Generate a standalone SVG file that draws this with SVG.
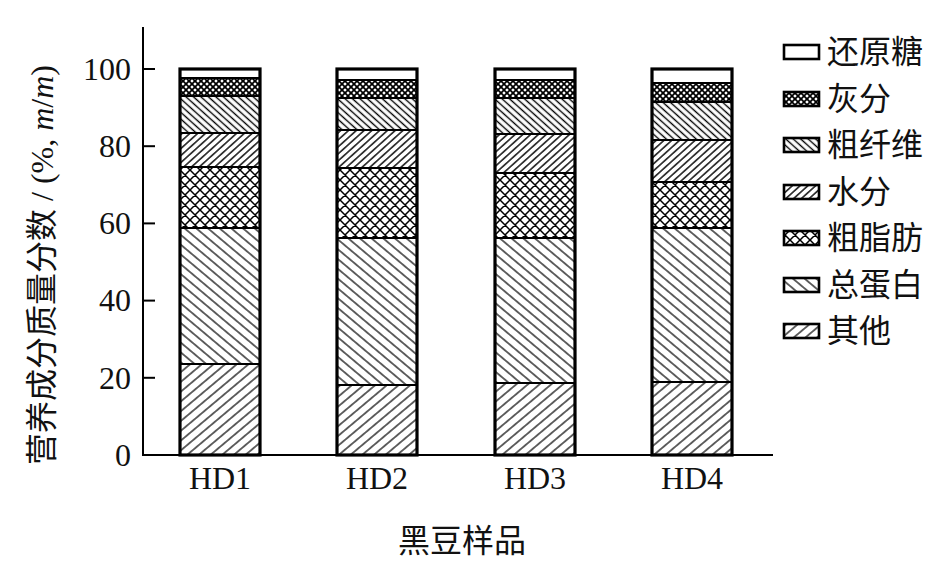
<svg xmlns="http://www.w3.org/2000/svg" width="947" height="579" viewBox="0 0 947 579">
<style>
.ax{stroke:#000;stroke-width:2;fill:none}
.seg{stroke:#000;stroke-width:2.2}
.bar{fill:none;stroke:#000;stroke-width:3.2}
.t{font-family:"Liberation Serif","Noto Sans CJK SC",serif;font-size:32px;fill:#111}
.lg{stroke:#000;stroke-width:2.6}
</style>
<defs>
<pattern id="pSugar" width="10" height="10" patternUnits="userSpaceOnUse"><rect width="10" height="10" fill="#fff"/></pattern>
<pattern id="pAsh" width="6" height="6" patternUnits="userSpaceOnUse"><rect width="6" height="6" fill="#fff"/><path d="M0,0L6,6M6,0L0,6M-1,5L1,7M5,-1L7,1M-1,1L1,-1M5,7L7,5" stroke="#000" stroke-width="1.7"/></pattern>
<pattern id="pFiber" width="10" height="5" patternUnits="userSpaceOnUse" patternTransform="rotate(42)"><rect width="10" height="5" fill="#fff"/><line x1="0" y1="2.5" x2="10" y2="2.5" stroke="#000" stroke-width="1.4"/></pattern>
<pattern id="pWater" width="10" height="5.2" patternUnits="userSpaceOnUse" patternTransform="rotate(-42)"><rect width="10" height="5.2" fill="#fff"/><line x1="0" y1="2.6" x2="10" y2="2.6" stroke="#000" stroke-width="1.4"/></pattern>
<pattern id="pFat" width="10" height="10" patternUnits="userSpaceOnUse"><rect width="10" height="10" fill="#fff"/><path d="M0,0L10,10M10,0L0,10M-1,9L1,11M9,-1L11,1M-1,1L1,-1M9,11L11,9" stroke="#000" stroke-width="1.5"/></pattern>
<pattern id="pProt" width="10" height="7.5" patternUnits="userSpaceOnUse" patternTransform="rotate(40)"><rect width="10" height="7.5" fill="#fff"/><line x1="0" y1="3.75" x2="10" y2="3.75" stroke="#000" stroke-width="1.2"/></pattern>
<pattern id="pOther" width="10" height="7.5" patternUnits="userSpaceOnUse" patternTransform="rotate(-40)"><rect width="10" height="7.5" fill="#fff"/><line x1="0" y1="3.75" x2="10" y2="3.75" stroke="#000" stroke-width="1.2"/></pattern>
</defs>
<rect width="947" height="579" fill="#fff"/>

<g id="axes">
<line class="ax" x1="143" y1="27" x2="143" y2="456"/>
<line class="ax" x1="142" y1="455" x2="773" y2="455"/>
<g class="ax">
<line x1="143" y1="69" x2="155" y2="69"/>
<line x1="143" y1="146.2" x2="155" y2="146.2"/>
<line x1="143" y1="223.4" x2="155" y2="223.4"/>
<line x1="143" y1="300.6" x2="155" y2="300.6"/>
<line x1="143" y1="377.8" x2="155" y2="377.8"/>
<line x1="220" y1="455" x2="220" y2="449"/>
<line x1="377" y1="455" x2="377" y2="449"/>
<line x1="535" y1="455" x2="535" y2="449"/>
<line x1="692" y1="455" x2="692" y2="449"/>
</g>
<g class="t" text-anchor="end">
<text x="131" y="80">100</text>
<text x="131" y="157">80</text>
<text x="131" y="234">60</text>
<text x="131" y="311">40</text>
<text x="131" y="389">20</text>
<text x="131" y="466">0</text>
</g>
<g class="t" text-anchor="middle">
<text x="220" y="489">HD1</text>
<text x="377" y="489">HD2</text>
<text x="535" y="489">HD3</text>
<text x="692" y="489">HD4</text>
<text x="462" y="552">黑豆样品</text>
<text transform="translate(53,265) rotate(-90)">营养成分质量分数 / (%, <tspan font-style="italic">m</tspan>/<tspan font-style="italic">m</tspan>)</text>
</g>
</g>

<g id="bar-HD1">
<rect x="180" y="364" width="80" height="91" fill="url(#pOther)"/>
<rect x="180" y="228" width="80" height="136" fill="url(#pProt)"/>
<rect x="180" y="167" width="80" height="61" fill="url(#pFat)"/>
<rect x="180" y="133" width="80" height="34" fill="url(#pWater)"/>
<rect x="180" y="96" width="80" height="37" fill="url(#pFiber)"/>
<rect x="180" y="78" width="80" height="18" fill="url(#pAsh)"/>
<rect x="180" y="69" width="80" height="9" fill="url(#pSugar)"/>
<g class="seg"><line x1="180" x2="260" y1="364" y2="364"/><line x1="180" x2="260" y1="228" y2="228"/><line x1="180" x2="260" y1="167" y2="167"/><line x1="180" x2="260" y1="133" y2="133"/><line x1="180" x2="260" y1="96" y2="96"/><line x1="180" x2="260" y1="78" y2="78"/></g>
<rect class="bar" x="180" y="69" width="80" height="386"/>
</g>

<g id="bar-HD2">
<rect x="337" y="385" width="80" height="70" fill="url(#pOther)"/>
<rect x="337" y="238" width="80" height="147" fill="url(#pProt)"/>
<rect x="337" y="168" width="80" height="70" fill="url(#pFat)"/>
<rect x="337" y="130" width="80" height="38" fill="url(#pWater)"/>
<rect x="337" y="98" width="80" height="32" fill="url(#pFiber)"/>
<rect x="337" y="80" width="80" height="18" fill="url(#pAsh)"/>
<rect x="337" y="69" width="80" height="11" fill="url(#pSugar)"/>
<g class="seg"><line x1="337" x2="417" y1="385" y2="385"/><line x1="337" x2="417" y1="238" y2="238"/><line x1="337" x2="417" y1="168" y2="168"/><line x1="337" x2="417" y1="130" y2="130"/><line x1="337" x2="417" y1="98" y2="98"/><line x1="337" x2="417" y1="80" y2="80"/></g>
<rect class="bar" x="337" y="69" width="80" height="386"/>
</g>

<g id="bar-HD3">
<rect x="495" y="383" width="80" height="72" fill="url(#pOther)"/>
<rect x="495" y="238" width="80" height="145" fill="url(#pProt)"/>
<rect x="495" y="173" width="80" height="65" fill="url(#pFat)"/>
<rect x="495" y="134" width="80" height="39" fill="url(#pWater)"/>
<rect x="495" y="98" width="80" height="36" fill="url(#pFiber)"/>
<rect x="495" y="80" width="80" height="18" fill="url(#pAsh)"/>
<rect x="495" y="69" width="80" height="11" fill="url(#pSugar)"/>
<g class="seg"><line x1="495" x2="575" y1="383" y2="383"/><line x1="495" x2="575" y1="238" y2="238"/><line x1="495" x2="575" y1="173" y2="173"/><line x1="495" x2="575" y1="134" y2="134"/><line x1="495" x2="575" y1="98" y2="98"/><line x1="495" x2="575" y1="80" y2="80"/></g>
<rect class="bar" x="495" y="69" width="80" height="386"/>
</g>

<g id="bar-HD4">
<rect x="652" y="382" width="80" height="73" fill="url(#pOther)"/>
<rect x="652" y="228" width="80" height="154" fill="url(#pProt)"/>
<rect x="652" y="182" width="80" height="46" fill="url(#pFat)"/>
<rect x="652" y="140" width="80" height="42" fill="url(#pWater)"/>
<rect x="652" y="102" width="80" height="38" fill="url(#pFiber)"/>
<rect x="652" y="83" width="80" height="19" fill="url(#pAsh)"/>
<rect x="652" y="69" width="80" height="14" fill="url(#pSugar)"/>
<g class="seg"><line x1="652" x2="732" y1="382" y2="382"/><line x1="652" x2="732" y1="228" y2="228"/><line x1="652" x2="732" y1="182" y2="182"/><line x1="652" x2="732" y1="140" y2="140"/><line x1="652" x2="732" y1="102" y2="102"/><line x1="652" x2="732" y1="83" y2="83"/></g>
<rect class="bar" x="652" y="69" width="80" height="386"/>
</g>

<g id="legend">
<rect class="lg" x="784" y="45" width="35" height="14" fill="url(#pSugar)"/>
<rect class="lg" x="784" y="92" width="35" height="14" fill="url(#pAsh)"/>
<rect class="lg" x="784" y="138" width="35" height="14" fill="url(#pFiber)"/>
<rect class="lg" x="784" y="185" width="35" height="14" fill="url(#pWater)"/>
<rect class="lg" x="784" y="231" width="35" height="14" fill="url(#pFat)"/>
<rect class="lg" x="784" y="278" width="35" height="14" fill="url(#pProt)"/>
<rect class="lg" x="784" y="324" width="35" height="14" fill="url(#pOther)"/>
<g class="t">
<text x="827" y="63">还原糖</text>
<text x="827" y="110">灰分</text>
<text x="827" y="156">粗纤维</text>
<text x="827" y="203">水分</text>
<text x="827" y="249">粗脂肪</text>
<text x="827" y="296">总蛋白</text>
<text x="827" y="342">其他</text>
</g>
</g>
</svg>
